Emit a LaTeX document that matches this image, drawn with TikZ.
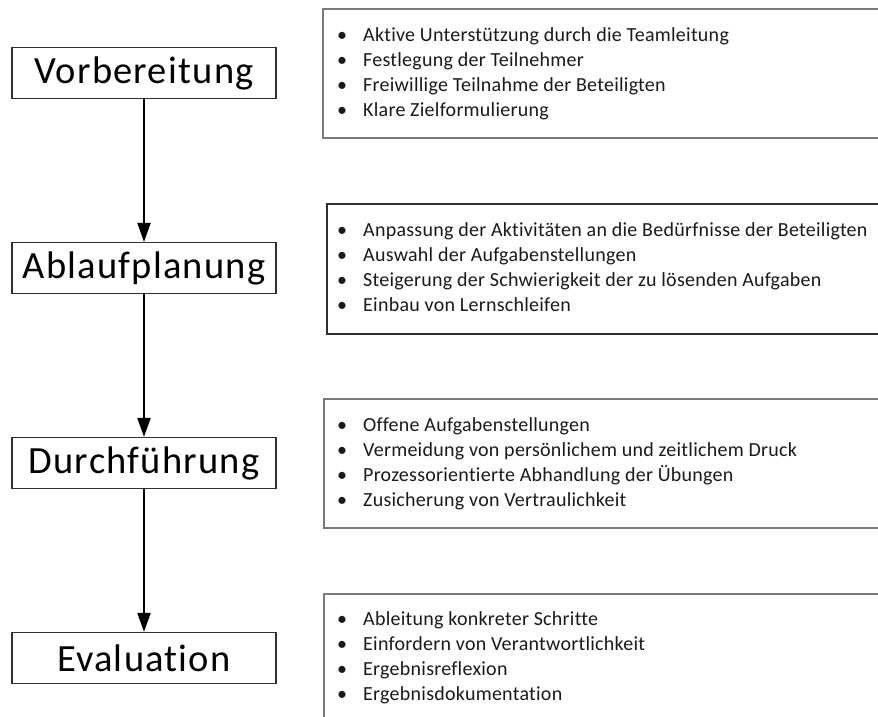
\documentclass[tikz,border=0pt]{standalone}
\usepackage{fontspec}
\setmainfont{Carlito}[Ligatures=NoCommon]
\newfontfamily\stagefont{Carlito}[Ligatures=NoCommon, LetterSpace=3.2]
\newfontfamily\itemfont{Carlito}[Ligatures=NoCommon, LetterSpace=1.3]
\usetikzlibrary{arrows.meta}
\definecolor{framegray}{HTML}{7A7A7A}
\definecolor{framedark}{HTML}{303030}
\definecolor{textdark}{HTML}{1A1A1A}
\tikzset{
  stage/.style={draw=framedark, line width=1.2pt, fill=white, minimum width=264pt,
    minimum height=51pt, inner sep=0pt, font=\stagefont\fontsize{38.5}{44}\selectfont},
  flow/.style={draw=black, line width=2pt, -{Triangle[length=19pt,width=13pt]}},
  listbox/.style={draw=framegray, line width=1.5pt},
  listitem/.style={anchor=base west, inner sep=0pt, text=textdark,
    font=\itemfont\fontsize{20}{25}\selectfont},
}
\newcommand{\bulletline}[1]{\makebox[26pt][l]{\textbullet}#1}
\begin{document}
\begin{tikzpicture}[x=1pt,y=-1pt]
\useasboundingbox (0,0) rectangle (878,717);
\clip (0,0) rectangle (878,717);

% phases on the left
\node[stage] (vor) at (144,73) {Vorbereitung};
\node[stage] (abl) at (144,268) {Ablaufplanung};
\node[stage] (dur) at (144,463) {Durchführung};
\node[stage] (eva) at (144,658) {Evaluation};

\draw[flow] (vor) -- (abl);
\draw[flow] (abl) -- (dur);
\draw[flow] (dur) -- (eva);

% detail boxes on the right (they run past the right edge)
\draw[listbox] (323,9) rectangle (900,138);
\draw[listbox, draw=framedark, line width=1.3pt] (327,204) rectangle (900,334);
\draw[listbox] (324,399) rectangle (900,528);
\draw[listbox] (324,594) rectangle (900,760);

\foreach [count=\i] \t in {Aktive Unterstützung durch die Teamleitung,
    Festlegung der Teilnehmer, Freiwillige Teilnahme der Beteiligten,
    Klare Zielformulierung}
  \node[listitem] (pa\i) at (337,{41.5+25*(\i-1)}) {\bulletline{\t}};

\foreach [count=\i] \t in {Anpassung der Aktivitäten an die Bedürfnisse der Beteiligten,
    Auswahl der Aufgabenstellungen,
    Steigerung der Schwierigkeit der zu lösenden Aufgaben,
    Einbau von Lernschleifen}
  \node[listitem] (pb\i) at (337,{236.5+25*(\i-1)}) {\bulletline{\t}};

\foreach [count=\i] \t in {Offene Aufgabenstellungen,
    Vermeidung von persönlichem und zeitlichem Druck,
    Prozessorientierte Abhandlung der Übungen,
    Zusicherung von Vertraulichkeit}
  \node[listitem] (pc\i) at (337,{431.5+25*(\i-1)}) {\bulletline{\t}};

\foreach [count=\i] \t in {Ableitung konkreter Schritte,
    Einfordern von Verantwortlichkeit, Ergebnisreflexion,
    Ergebnisdokumentation}
  \node[listitem] (pd\i) at (337,{625.5+25*(\i-1)}) {\bulletline{\t}};
\end{tikzpicture}
\end{document}
